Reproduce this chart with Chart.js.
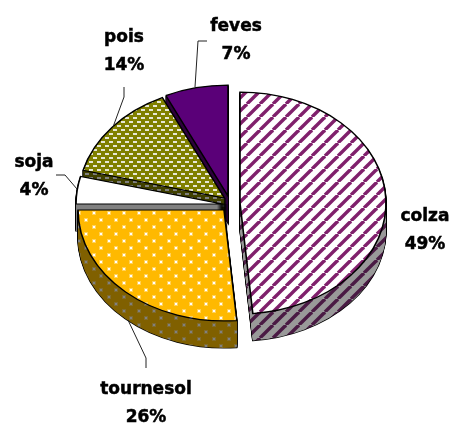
<!DOCTYPE html>
<html>
<head>
<meta charset="utf-8">
<script src="https://cdn.jsdelivr.net/npm/chart.js@4"></script>
<style>
    html, body { margin: 0; padding: 0; background: #fff; }
    #wrap { width: 450px; height: 423px; }
</style>
</head>
<body>
<div id="wrap"><canvas id="pieChart" width="450" height="423"></canvas></div>
<script>
const categories = ["colza", "tournesol", "soja", "pois", "feves"];
const shares = [48.6, 26.4, 4, 14, 7];

const RADIUS = 146;
const SQUASH = 0.76; // pie is seen at an angle
const DEPTH = 27;

// where each exploded slice really sits
const sliceCenters = [[240, 203], [224, 210], [222, 204], [224.5, 198], [228, 196]];
const drawOrder = [4, 3, 2, 1, 0];

const labelSpots = [[425, 217], [146, 390], [34, 163], [124, 38], [236, 27]];

const leaders = [
    [[207, 41], [198, 41], [195, 87]],
    [[113, 127], [124, 97], [124, 87]],
    [[77, 189], [65, 175], [56, 175]],
    [[128, 320], [146, 358], [146, 368]]
];

function tile(w, h, bg, paint) {
    const c = document.createElement("canvas");
    c.width = w;
    c.height = h;
    const g = c.getContext("2d");
    g.fillStyle = bg;
    g.fillRect(0, 0, w, h);
    paint(g);
    return g.createPattern(c, "repeat");
}

function stripes(bg, fg) {
    return tile(13, 13, bg, g => {
        g.strokeStyle = fg;
        g.lineWidth = 3.4;
        [-13, 0, 13].forEach(o => {
            g.beginPath();
            g.moveTo(o, 13);
            g.lineTo(o + 13, 0);
            g.stroke();
        });
    });
}

function dots(bg, fg) {
    return tile(15, 14, bg, g => {
        [[3, 2], [10, 9]].forEach(([x, y]) => {
            g.fillStyle = fg;
            g.globalAlpha = 0.35;
            g.fillRect(x - 1, y - 1, 4, 4);
            g.globalAlpha = 1;
            g.fillRect(x, y, 2, 2);
        });
    });
}

function beads(bg, fg) {
    return tile(8, 8, bg, g => {
        g.fillStyle = fg;
        g.fillRect(1, 1, 4, 2);
        g.fillRect(5, 5, 4, 2);
        g.fillRect(-3, 5, 4, 2);
    });
}

const topFills = [
    stripes("#ffffff", "#80206c"),
    dots("#ffb900", "#ffffff"),
    "#ffffff",
    beads("#808000", "#e8e8d8"),
    "#5a0078"
];
const wallFills = [
    stripes("#999999", "#4a1a44"),
    dots("#806000", "#808080"),
    "#808080",
    beads("#404000", "#808080"),
    "#2d003c"
];

const pie3d = {
    id: "pie3d",
    beforeDatasetDraw(chart) {
        const ctx = chart.ctx;
        const arcs = chart.getDatasetMeta(0).data;
        const cx = arcs[0].x, cy = arcs[0].y;

        function drawSlice(i, d, fill, border) {
            const arc = arcs[i];
            const opts = arc.options;
            arc.options = Object.assign({}, opts, { backgroundColor: fill, borderWidth: border });
            ctx.save();
            ctx.translate(sliceCenters[i][0], sliceCenters[i][1] + d);
            ctx.scale(1, SQUASH);
            ctx.translate(-cx, -cy);
            // keep the hatching fixed on the page, not squashed with the slice
            if (fill.setTransform) fill.setTransform(ctx.getTransform().inverse());
            arc.draw(ctx);
            ctx.restore();
            arc.options = opts;
        }

        drawOrder.forEach(i => {
            const border = arcs[i].options.borderWidth;
            // black sweep first, then fill it back in so only the outline stays
            for (let d = DEPTH; d >= 1; d--) drawSlice(i, d, wallFills[i], border);
            for (let d = DEPTH; d >= 1; d--) drawSlice(i, d, wallFills[i], 0);
            drawSlice(i, 0, topFills[i], border);
        });
        return false;
    },
    afterDraw(chart) {
        const ctx = chart.ctx;
        ctx.save();
        ctx.strokeStyle = "#222222";
        ctx.lineWidth = 1;
        leaders.forEach(line => {
            ctx.beginPath();
            line.forEach((p, n) => n ? ctx.lineTo(p[0], p[1]) : ctx.moveTo(p[0], p[1]));
            ctx.stroke();
        });

        ctx.fillStyle = "#000000";
        ctx.strokeStyle = "#000000";
        ctx.lineWidth = 0.5;
        ctx.font = "bold 17px 'DejaVu Sans'";
        ctx.textAlign = "center";
        ctx.textBaseline = "middle";
        categories.forEach((name, i) => {
            const [x, y] = labelSpots[i];
            const pct = Math.round(shares[i]) + "%";
            ctx.fillText(name, x, y);
            ctx.strokeText(name, x, y);
            ctx.fillText(pct, x, y + 28);
            ctx.strokeText(pct, x, y + 28);
        });
        ctx.restore();
    }
};

new Chart(document.getElementById("pieChart"), {
    type: "pie",
    data: {
        labels: categories,
        datasets: [{
            data: shares,
            radius: RADIUS,
            backgroundColor: topFills,
            borderColor: "#000000",
            borderWidth: 1.6,
            borderJoinStyle: "miter"
        }]
    },
    options: {
        responsive: false,
        animation: false,
        layout: { padding: 0 },
        plugins: { legend: { display: false }, tooltip: { enabled: false } }
    },
    plugins: [pie3d]
});
</script>
</body>
</html>
